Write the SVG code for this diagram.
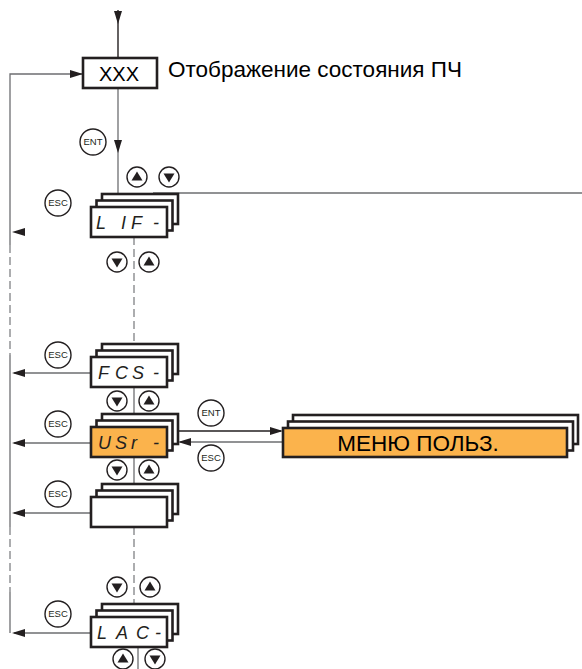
<svg xmlns="http://www.w3.org/2000/svg" xmlns:xlink="http://www.w3.org/1999/xlink" width="582" height="669" viewBox="0 0 582 669">
<style>
.bk{stroke:#231f20;stroke-width:1.4;fill:none}
.gr{stroke:#6d6e71;stroke-width:1.3;fill:none}
.ds{stroke:#808285;stroke-width:1.3;fill:none;stroke-dasharray:8 4}
.box{fill:#fff;stroke:#231f20;stroke-width:2.6}
.org{fill:#fbb34c;stroke:#231f20;stroke-width:2.6}
.btn{fill:#fff;stroke:#231f20;stroke-width:1.4}
.tri{fill:#231f20}
.key{font-family:"Liberation Sans",Arial,sans-serif;font-size:9.5px;fill:#231f20;text-anchor:middle}
.seg{font-family:"Liberation Sans",Arial,sans-serif;font-style:italic;font-size:18px;fill:#231f20}
.lbl{font-family:"Liberation Sans",Arial,sans-serif;fill:#000}
.ah{fill:#231f20}
</style>
<defs>
<g id="up"><circle class="btn" cx="0" cy="0" r="10"/><polygon class="tri" points="-5.5,3.5 5.5,3.5 0,-5.5"/></g>
<g id="dn"><circle class="btn" cx="0" cy="0" r="10"/><polygon class="tri" points="-5.5,-3.5 5.5,-3.5 0,5.5"/></g>
<g id="esc"><circle class="btn" cx="0" cy="0" r="13"/><text class="key" x="0" y="3.4">ESC</text></g>
<g id="ent"><circle class="btn" cx="0" cy="0" r="13"/><text class="key" x="0" y="3.4">ENT</text></g>
<g id="stack"><rect class="box" x="11" y="-13" width="76" height="30"/><rect class="box" x="5.5" y="-6.5" width="76" height="30"/><rect class="box" x="0" y="0" width="76" height="30"/></g>
<g id="stackO"><rect class="box" x="11" y="-13" width="76" height="30"/><rect class="box" x="5.5" y="-6.5" width="76" height="30"/><rect class="org" x="0" y="0" width="76" height="30"/></g>
<polygon id="aL" class="ah" points="0,0 13,-4 13,4"/>
<polygon id="aR" class="ah" points="0,0 -13,-4 -13,4"/>
<polygon id="aD" class="ah" points="0,0 -4,-13 4,-13"/>
</defs>

<g id="connectors">
<line class="bk" x1="118" y1="10" x2="118" y2="58"/>
<use xlink:href="#aD" x="118" y="24"/>
<line class="gr" x1="118" y1="88" x2="118" y2="194"/>
<use xlink:href="#aD" x="118" y="153"/>
<line class="gr" x1="153" y1="193" x2="582" y2="193"/>
<path class="gr" d="M83,74 H10 V245"/>
<use xlink:href="#aR" x="83" y="74"/>
<line class="ds" x1="10" y1="245" x2="10" y2="355"/>
<line class="gr" x1="10" y1="355" x2="10" y2="527"/>
<line class="ds" x1="10" y1="527" x2="10" y2="592"/>
<line class="gr" x1="10" y1="592" x2="10" y2="633"/>
<use xlink:href="#aL" x="12" y="232"/>
<line class="gr" x1="91" y1="373" x2="14" y2="373"/>
<use xlink:href="#aL" x="12" y="373"/>
<line class="gr" x1="91" y1="443" x2="14" y2="443"/>
<use xlink:href="#aL" x="12" y="443"/>
<line class="gr" x1="91" y1="513" x2="14" y2="513"/>
<use xlink:href="#aL" x="12" y="513"/>
<line class="gr" x1="91" y1="633" x2="14" y2="633"/>
<use xlink:href="#aL" x="12" y="633"/>
<line class="ds" x1="134" y1="237" x2="134" y2="344"/>
<line class="gr" x1="134" y1="388" x2="134" y2="414"/>
<line class="gr" x1="134" y1="458" x2="134" y2="484"/>
<line class="ds" x1="134" y1="527" x2="134" y2="604"/>
<line class="gr" x1="138" y1="647" x2="138" y2="669"/>
<line class="bk" x1="178" y1="431" x2="281" y2="431"/>
<use xlink:href="#aR" x="283" y="431"/>
<line class="gr" x1="283" y1="442" x2="180" y2="442"/>
<use xlink:href="#aL" x="178" y="442"/>
</g>

<g id="node-xxx">
<rect class="box" x="83" y="58" width="74" height="30"/>
<text class="lbl" x="119" y="80.5" font-size="20" text-anchor="middle">XXX</text>
</g>
<g id="label-status">
<text class="lbl" x="168" y="77" font-size="22.5">Отображение состояния ПЧ</text>
</g>

<g id="node-lif">
<use xlink:href="#stack" transform="translate(91,207)"/>
<text class="seg" x="96 110 121 131 146 153" y="229">L IF -</text>
</g>
<g id="node-fcs">
<use xlink:href="#stack" transform="translate(91,357)"/>
<text class="seg" x="98 108 115 125 132 145 153" y="379">F C S -</text>
</g>
<g id="node-usr">
<use xlink:href="#stackO" transform="translate(91,427)"/>
<text class="seg" x="98 108 115 125 131 145 153" y="449">U S r -</text>
</g>
<g id="node-blank">
<use xlink:href="#stack" transform="translate(91,497)"/>
</g>
<g id="node-lac">
<use xlink:href="#stack" transform="translate(91,617)"/>
<text class="seg" x="97 108 116 128 136 148 155" y="639">L A C -</text>
</g>
<g id="node-menu">
<rect class="box" x="293" y="415" width="285" height="29"/>
<rect class="box" x="288" y="421.5" width="285" height="29"/>
<rect class="org" x="283" y="428" width="284" height="29"/>
<text class="lbl" x="418" y="450.5" font-size="22.5" text-anchor="middle">МЕНЮ ПОЛЬЗ.</text>
</g>

<g id="keys">
<use xlink:href="#ent" x="93" y="142"/>
<use xlink:href="#up" x="137" y="177"/>
<use xlink:href="#dn" x="169" y="177"/>
<use xlink:href="#esc" x="58" y="203"/>
<use xlink:href="#dn" x="117" y="262"/>
<use xlink:href="#up" x="149" y="262"/>
<use xlink:href="#esc" x="58" y="355"/>
<use xlink:href="#dn" x="117" y="401"/>
<use xlink:href="#up" x="149" y="401"/>
<use xlink:href="#esc" x="58" y="424"/>
<use xlink:href="#ent" x="211" y="413"/>
<use xlink:href="#esc" x="211" y="458"/>
<use xlink:href="#dn" x="117" y="470"/>
<use xlink:href="#up" x="149" y="470"/>
<use xlink:href="#esc" x="58" y="494"/>
<use xlink:href="#dn" x="117" y="587"/>
<use xlink:href="#up" x="150" y="587"/>
<use xlink:href="#esc" x="58" y="614"/>
<use xlink:href="#up" x="123" y="659"/>
<use xlink:href="#dn" x="155" y="659"/>
</g>
</svg>
